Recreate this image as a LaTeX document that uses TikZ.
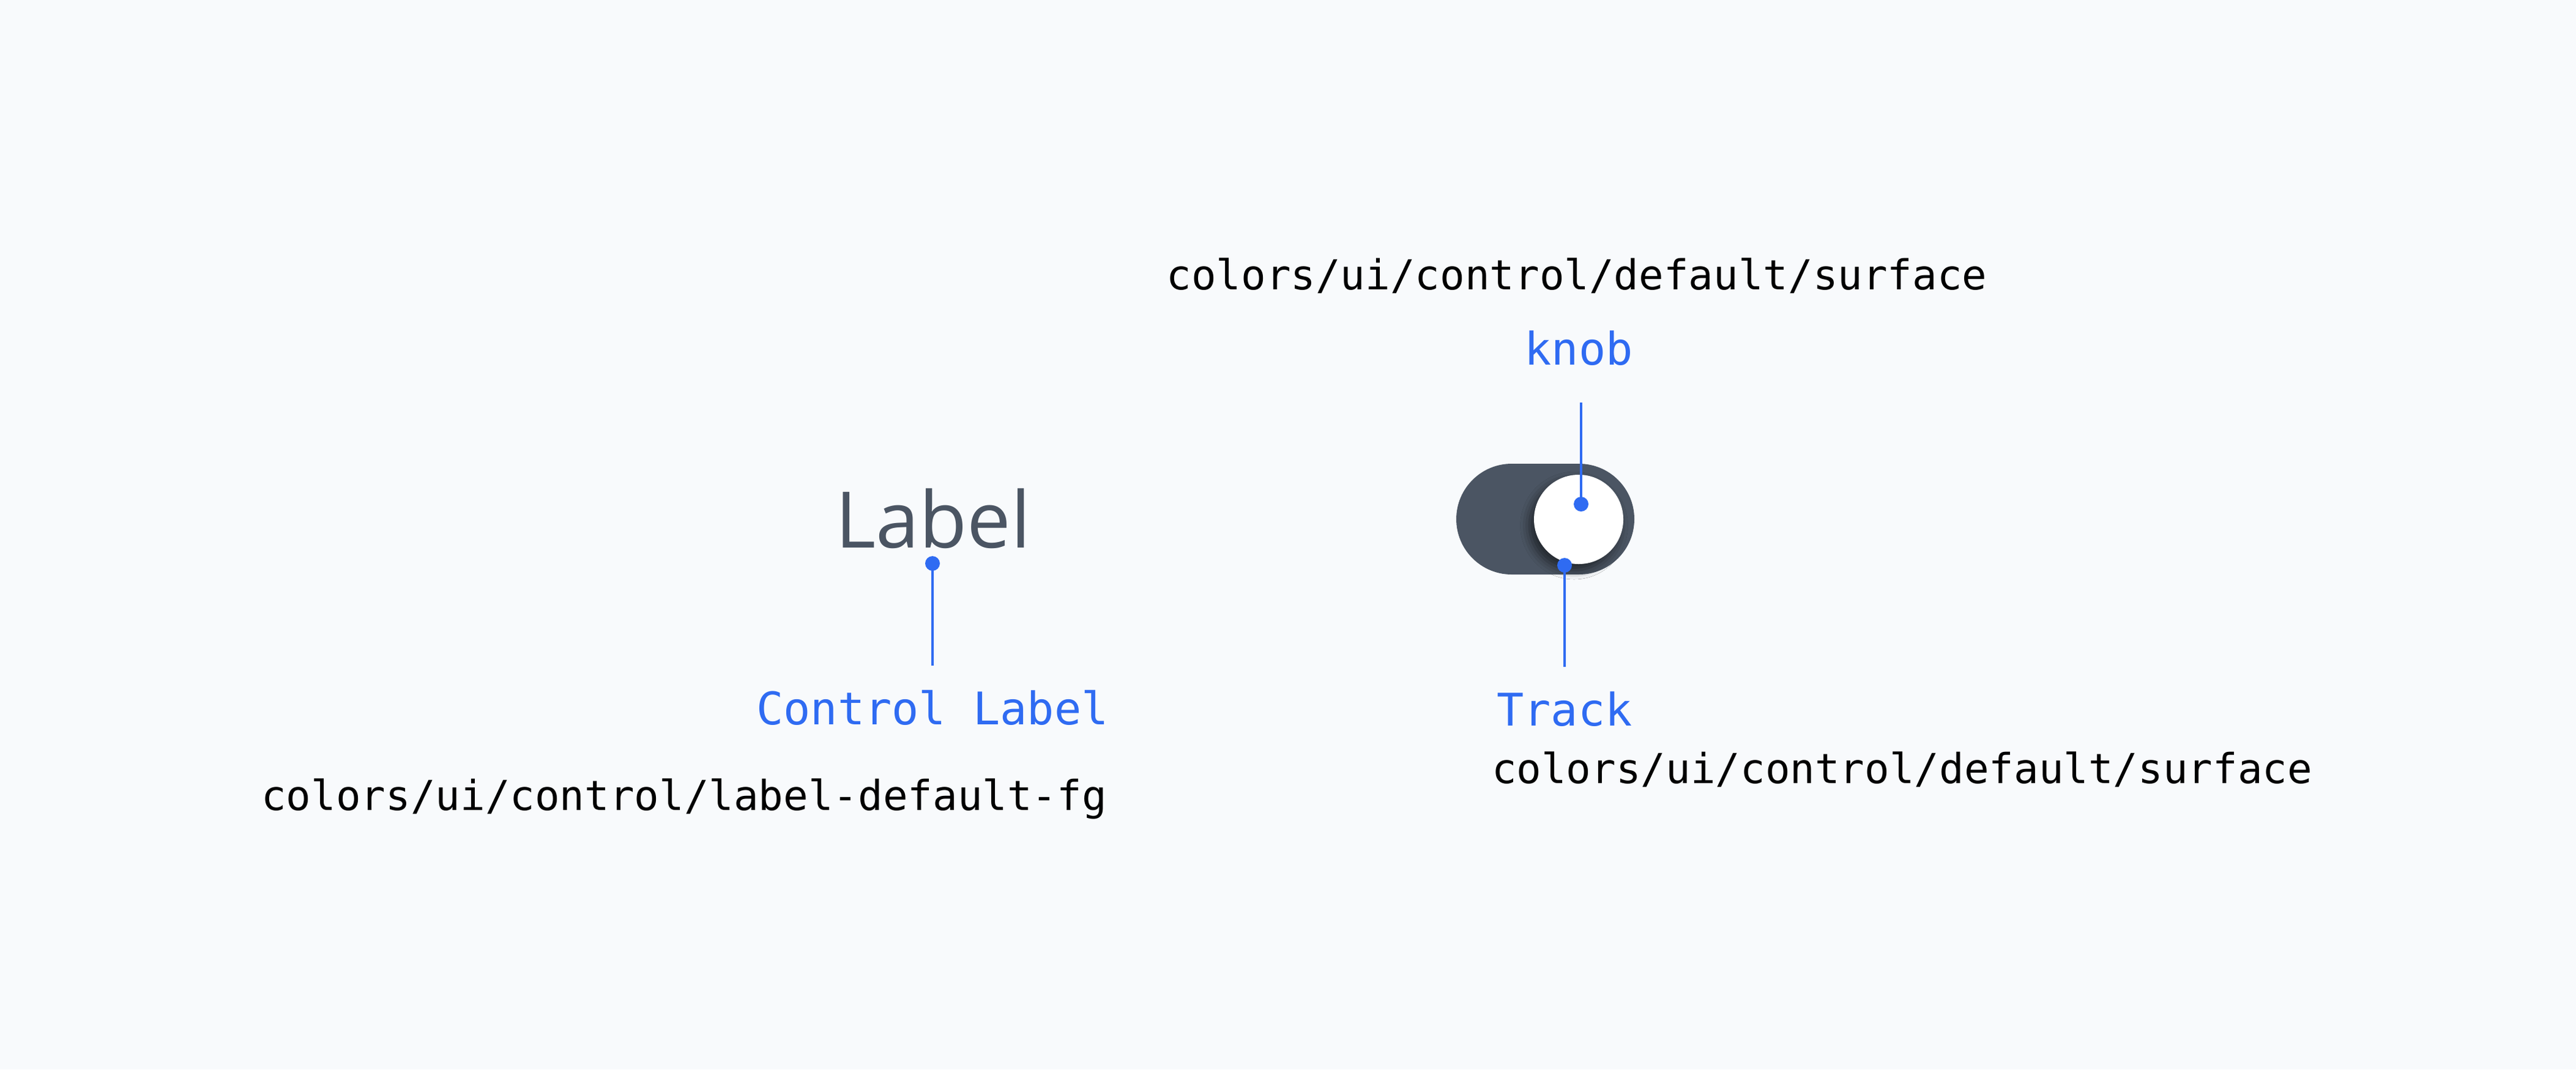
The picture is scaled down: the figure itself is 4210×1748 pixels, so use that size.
\documentclass[tikz,border=0pt]{standalone}
\usepackage{fontspec}
\setmainfont{Open Sans}
\setmonofont{DejaVu Sans Mono}
\usepackage{xcolor}
\usetikzlibrary{shadows.blur}
\definecolor{bgpage}{HTML}{F8FAFC}
\definecolor{calloutblue}{HTML}{2F6BF2}
\definecolor{slate}{HTML}{4B5563}

\begin{document}
\begin{tikzpicture}[x=0.2pt,y=-0.2pt,
  tokentext/.style={font=\ttfamily\fontsize{13.5}{16}\selectfont, text=black, inner sep=0pt},
  calltext/.style={font=\ttfamily\fontsize{14.7}{17}\selectfont, text=calloutblue, inner sep=0pt},
  callout/.style={draw=calloutblue, line width=0.8pt},
  pindot/.style={fill=calloutblue}]
\fill[bgpage] (0,0) rectangle (4210,1748);
\useasboundingbox (0,0) rectangle (4210,1748);

% left: label part
\node[font=\fontsize{25.5}{30}\selectfont, text=slate, inner sep=0pt, anchor=base] (lbl) at (1525,895) {Label};
\node[calltext, anchor=base] (lbltag) at (1524,1184) {Control Label};
\node[tokentext, anchor=base east] (lbltoken) at (1810,1324) {colors/ui/control/label-default-fg};
\coordinate (lbldot) at (1524,921);
\coordinate (lblend) at (1524,1088);
\draw[callout] (lbldot) -- (lblend);
\fill[pindot] (lbldot) circle (2.4pt);

% right: the switch
\node[fill=slate, rounded corners=18.1pt, minimum width=58.2pt, minimum height=36.2pt, inner sep=0pt] (track) at (2525.5,848.5) {};
\node[circle, fill=white, minimum size=29.2pt, inner sep=0pt,
  blur shadow={shadow xshift=-1.5pt, shadow yshift=-2pt, shadow blur radius=3pt, shadow opacity=55}] (knob) at (2580,849) {};

\node[tokentext, anchor=base] (knobtoken) at (2577,473) {colors/ui/control/default/surface};
\node[calltext, anchor=base] (knobtag) at (2580,596) {knob};
\coordinate (knobtop) at (2584,658);
\coordinate (knobdot) at (2584,824);
\draw[callout] (knobtop) -- (knobdot);
\fill[pindot] (knobdot) circle (2.4pt);

\node[calltext, anchor=base] (tracktag) at (2557,1186) {Track};
\node[tokentext, anchor=base west] (tracktoken) at (2437,1280) {colors/ui/control/default/surface};
\coordinate (trackdot) at (2557,924);
\coordinate (trackend) at (2557,1090);
\draw[callout] (trackdot) -- (trackend);
\fill[pindot] (trackdot) circle (2.4pt);
\end{tikzpicture}
\end{document}
